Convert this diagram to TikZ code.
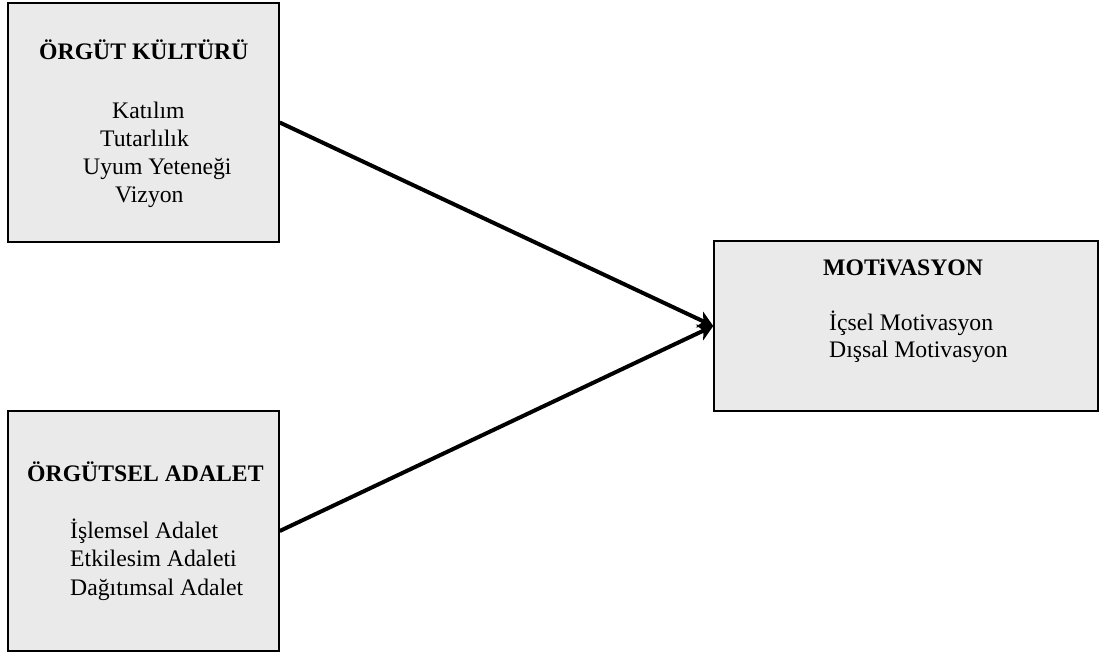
\documentclass[tikz,border=0pt]{standalone}
\usepackage{fontspec}
\setmainfont{Liberation Serif}
\usetikzlibrary{arrows.meta}
\definecolor{boxgray}{RGB}{234,234,234}
\tikzset{
  kutu/.style={draw=black, fill=boxgray, line width=1.5pt, inner sep=0pt},
  baslik/.style={anchor=base west, inner sep=0pt, font=\fontsize{23.7}{28}\selectfont\bfseries},
  madde/.style={anchor=base west, inner sep=0pt, font=\fontsize{23.7}{28}\selectfont},
  ok/.style={line width=4pt, -{Stealth[length=15pt,width=17pt,inset=4pt]}}
}
\begin{document}
\begin{tikzpicture}[x=1pt,y=-1pt]
				\useasboundingbox (0,0) rectangle (1101,652);
				% boxes
				\node[kutu, minimum width=271pt, minimum height=239pt] (kultur) at (143.5,122.5) {};
				\node[kutu, minimum width=271pt, minimum height=240pt] (adalet) at (143.5,531) {};
				\node[kutu, minimum width=384pt, minimum height=170pt] (motiv) at (906,326) {};
				% texts
				\node[baslik] (kulturT) at (39,60) {ÖRGÜT KÜLTÜRÜ};
				\node[madde] (katilim) at (112,119) {Katılım};
				\node[madde] (tutarlilik) at (100,147) {Tutarlılık};
				\node[madde] (uyum) at (83,175) {Uyum Yeteneği};
				\node[madde] (vizyon) at (115,203) {Vizyon};
				\node[baslik] (adaletT) at (27,481) {ÖRGÜTSEL ADALET};
				\node[madde] (islemsel) at (70,538) {İşlemsel Adalet};
				\node[madde] (etkilesim) at (70,566.5) {Etkilesim Adaleti};
				\node[madde] (dagitimsal) at (70,595) {Dağıtımsal Adalet};
				\node[baslik] (motivT) at (823,276) {MOTiVASYON};
				\node[madde] (icsel) at (829,331) {İçsel Motivasyon};
				\node[madde] (dissal) at (829,358) {Dışsal Motivasyon};
				% arrows
				\draw[ok] (kultur.east) -- (motiv.west);
				\draw[ok] (adalet.east) -- (motiv.west);
\end{tikzpicture}
\end{document}
